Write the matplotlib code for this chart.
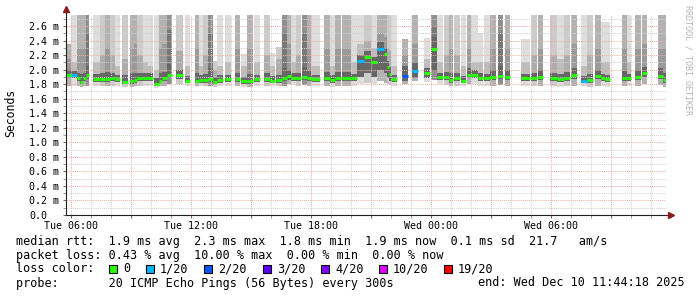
import matplotlib
matplotlib.use('Agg')
import matplotlib.pyplot as plt
from matplotlib.patches import Rectangle
from matplotlib.ticker import FixedLocator
import numpy as np

W, H = 697, 297

# ---------------- data (hours since Tue 00:00, latency in ms) ----------------
t_start = [5.74, 6.00, 6.30, 6.45, 6.58, 6.73,
           7.10, 7.43, 7.68, 7.93, 8.18,
           8.55,
           8.95, 9.13, 9.30, 9.58, 9.85,
           10.13, 10.38, 10.53, 10.78,
           11.23, 11.68,
           12.18, 12.38, 12.58, 12.83, 13.08, 13.28,
           13.68,
           14.20, 14.48, 14.78, 15.13,
           15.63, 15.93, 16.23, 16.53, 16.78, 16.98, 17.23,
           17.53, 17.78, 17.98,
           18.63, 18.93, 19.18,
           19.53, 19.98, 20.28, 20.63, 20.98, 21.28, 21.63, 21.78, 21.88, 21.98,
           22.53,
           23.03,
           23.63,
           24.00, 24.30, 24.63, 24.88, 25.13, 25.48, 25.78, 25.98, 26.33, 26.63, 26.93,
           27.33,
           27.68,
           28.48, 28.98, 29.33,
           29.93, 30.28, 30.63, 30.98,
           31.48, 31.78,
           32.18, 32.48, 32.68,
           33.53, 33.78,
           34.18, 34.53,
           35.33, 35.58]

t_end = [6.00, 6.30, 6.45, 6.58, 6.73, 6.90,
         7.43, 7.68, 7.93, 8.18, 8.43,
         8.83,
         9.13, 9.30, 9.58, 9.83, 10.08,
         10.38, 10.53, 10.78, 11.05,
         11.58, 11.95,
         12.38, 12.58, 12.83, 13.08, 13.28, 13.58,
         13.98,
         14.45, 14.78, 15.08, 15.43,
         15.93, 16.18, 16.53, 16.78, 16.98, 17.23, 17.48,
         17.78, 17.98, 18.43,
         18.93, 19.18, 19.48,
         19.98, 20.28, 20.63, 20.98, 21.28, 21.63, 21.78, 21.88, 21.98, 22.28,
         22.83,
         23.33,
         23.93,
         24.30, 24.58, 24.88, 25.08, 25.43, 25.73, 25.98, 26.33, 26.58, 26.93, 27.23,
         27.58,
         27.93,
         28.93, 29.28, 29.58,
         30.28, 30.63, 30.93, 31.28,
         31.78, 32.08,
         32.48, 32.68, 32.93,
         33.78, 33.98,
         34.48, 34.78,
         35.58, 35.72]

median_ms = [1.93, 1.92, 1.88, 1.83, 1.88, 1.92,
             1.87, 1.87, 1.87, 1.88, 1.87,
             1.83,
             1.84, 1.86, 1.89, 1.89, 1.89,
             1.80, 1.85, 1.88, 1.93,
             1.92, 1.85,
             1.85, 1.86, 1.86, 1.87, 1.83, 1.86,
             1.87,
             1.87, 1.84, 1.84, 1.87,
             1.87, 1.85, 1.86, 1.88, 1.91, 1.89, 1.88,
             1.90, 1.89, 1.87,
             1.88, 1.86, 1.88,
             1.88, 1.88, 2.12, 2.18, 2.10, 2.28, 2.21, 2.03, 1.94, 1.87,
             1.91,
             1.98,
             1.95,
             2.29, 1.90, 1.90, 1.86, 1.88, 1.85, 1.93, 1.93, 1.89, 1.88, 1.90,
             1.91,
             1.90,
             1.88, 1.88, 1.90,
             1.88, 1.87, 1.89, 1.92,
             1.85, 1.86,
             1.91, 1.88, 1.87,
             1.89, 1.88,
             1.90, 1.95,
             1.91, 1.86]

loss_idx = [0, 1, 0, 0, 0, 0,
            0, 0, 0, 0, 0,
            0,
            0, 0, 0, 0, 0,
            0, 0, 0, 0,
            0, 0,
            0, 0, 0, 0, 0, 0,
            0,
            0, 0, 0, 0,
            0, 0, 0, 0, 0, 0, 0,
            0, 0, 0,
            0, 0, 0,
            0, 0, 1, 0, 0, 1, 0, 0, 0, 0,
            2,
            1,
            0,
            0, 0, 0, 0, 0, 0, 0, 0, 0, 0, 0,
            0,
            0,
            0, 0, 0,
            0, 0, 0, 0,
            1, 0,
            0, 0, 0,
            0, 0,
            0, 0,
            0, 0]

ping_min = [1.78, 1.77, 1.77, 1.76, 1.77, 1.78,
            1.77, 1.77, 1.77, 1.78, 1.77,
            1.76,
            1.76, 1.77, 1.78, 1.78, 1.78,
            1.75, 1.77, 1.78, 1.80,
            1.80, 1.77,
            1.77, 1.77, 1.77, 1.77, 1.76, 1.77,
            1.78,
            1.77, 1.76, 1.76, 1.77,
            1.77, 1.77, 1.77, 1.78, 1.80, 1.79, 1.78,
            1.79, 1.78, 1.77,
            1.77, 1.76, 1.77,
            1.77, 1.78, 1.80, 1.82, 1.80, 1.84, 1.82, 1.80, 1.79, 1.77,
            1.80,
            1.84,
            1.83,
            1.86, 1.80, 1.79, 1.77, 1.78, 1.77, 1.80, 1.80, 1.78, 1.77, 1.78,
            1.79,
            1.78,
            1.77, 1.77, 1.78,
            1.77, 1.76, 1.77, 1.78,
            1.77, 1.76,
            1.78, 1.77, 1.76,
            1.78, 1.77,
            1.78, 1.80,
            1.79, 1.76]

ping_p25 = [1.89, 1.88, 1.84, 1.80, 1.84, 1.87,
            1.83, 1.83, 1.83, 1.84, 1.83,
            1.80,
            1.80, 1.82, 1.85, 1.85, 1.85,
            1.77, 1.81, 1.84, 1.88,
            1.87, 1.81,
            1.81, 1.82, 1.82, 1.83, 1.80, 1.82,
            1.83,
            1.83, 1.80, 1.80, 1.83,
            1.83, 1.81, 1.82, 1.84, 1.86, 1.85, 1.84,
            1.86, 1.85, 1.83,
            1.84, 1.82, 1.84,
            1.84, 1.84, 1.90, 1.95, 1.90, 2.00, 1.95, 1.88, 1.84, 1.83,
            1.84,
            1.88,
            1.88,
            1.98, 1.86, 1.86, 1.82, 1.84, 1.81, 1.88, 1.88, 1.85, 1.84, 1.86,
            1.87,
            1.86,
            1.84, 1.84, 1.86,
            1.84, 1.83, 1.85, 1.87,
            1.81, 1.82,
            1.87, 1.84, 1.83,
            1.85, 1.84,
            1.86, 1.90,
            1.87, 1.82]

ping_p75 = [2.00, 1.98, 1.96, 1.94, 1.96, 2.05,
            1.94, 1.95, 1.97, 1.96, 1.93,
            1.92,
            1.95, 1.96, 1.96, 1.95, 1.95,
            1.88, 1.95, 1.97, 2.08,
            1.99, 1.91,
            1.95, 1.92, 1.94, 2.02, 1.90, 1.92,
            1.93,
            1.96, 1.90, 1.94, 1.93,
            1.95, 1.91, 1.93, 2.02, 2.00, 1.95, 1.95,
            2.04, 1.98, 1.93,
            1.97, 1.92, 1.97,
            1.97, 1.94, 2.20, 2.25, 2.18, 2.38, 2.30, 2.12, 2.03, 1.93,
            2.05,
            2.10,
            2.02,
            2.45, 1.96, 1.97, 1.96, 1.96, 1.91, 2.02, 1.99, 1.95, 1.94, 1.99,
            2.05,
            1.99,
            1.94, 1.96, 2.00,
            1.96, 1.94, 1.97, 2.02,
            1.91, 1.94,
            2.00, 1.94, 1.93,
            1.98, 1.94,
            1.99, 2.04,
            2.02, 1.96]

ping_p90 = [2.15, 2.10, 2.30, 2.30, 2.30, 2.50,
            2.10, 2.20, 2.30, 2.20, 2.05,
            2.15,
            2.30, 2.35, 2.20, 2.10, 2.05,
            2.00, 2.30, 2.35, 2.55,
            2.25, 2.05,
            2.30, 2.05, 2.20, 2.50, 2.00, 2.05,
            2.10,
            2.30, 2.05, 2.30, 2.10,
            2.20, 2.05, 2.15, 2.50, 2.35, 2.10, 2.20,
            2.50, 2.30, 2.05,
            2.30, 2.05, 2.30,
            2.30, 2.10, 2.35, 2.40, 2.30, 2.50, 2.45, 2.30, 2.25, 2.05,
            2.20,
            2.35,
            2.15,
            2.60, 2.10, 2.20, 2.30, 2.20, 2.05, 2.30, 2.10, 2.10, 2.10, 2.30,
            2.50,
            2.30,
            2.10, 2.20, 2.30,
            2.20, 2.15, 2.20, 2.35,
            2.05, 2.20,
            2.30, 2.10, 2.10,
            2.30, 2.10,
            2.30, 2.35,
            2.30, 2.30]

ping_max = [2.35, 3, 3, 3, 3, 3,
            3, 3, 3, 3, 3,
            3,
            3, 3, 3, 3, 3,
            3, 3, 3, 3,
            3, 3,
            3, 3, 3, 3, 2.12, 3,
            3,
            3, 2.22, 3, 3,
            3, 2.23, 2.31, 3, 3, 3, 3,
            3, 3, 3,
            3, 3, 3,
            3, 3, 3, 3, 3, 3, 3, 3, 3, 3,
            2.42,
            3,
            2.43,
            3, 3, 3, 3, 3, 3, 3, 3, 2.50, 3, 3,
            3,
            3,
            2.42, 3, 3,
            3, 3, 3, 3,
            3, 3,
            3, 2.66, 2.66,
            3, 3,
            3, 3,
            3, 3]

smoke_shade = [2, 0, 2, 2, 2, 3,
               0, 1, 2, 1, 0,
               1,
               2, 2, 1, 0, 0,
               0, 2, 2, 3,
               1, 0,
               2, 0, 1, 3, 1, 0,
               0,
               2, 0, 2, 0,
               1, 0, 1, 3, 2, 0, 1,
               3, 2, 0,
               2, 0, 2,
               2, 0, 0, 1, 0, 2, 2, 1, 1, 0,
               2,
               2,
               0,
               3, 0, 1, 2, 1, 0, 2, 0, 0, 0, 2,
               3,
               2,
               0, 1, 2,
               1, 0, 1, 2,
               0, 1,
               2, 0, 0,
               2, 0,
               2, 2,
               2, 2]

x_tick_hours = [6, 12, 18, 24, 30]
x_tick_labels = ['Tue 06:00', 'Tue 12:00', 'Tue 18:00', 'Wed 00:00', 'Wed 06:00']
y_tick_values = [0.0, 0.2, 0.4, 0.6, 0.8, 1.0, 1.2, 1.4, 1.6, 1.8, 2.0, 2.2, 2.4, 2.6]
y_tick_labels = ['0.0', '0.2 m', '0.4 m', '0.6 m', '0.8 m', '1.0 m', '1.2 m',
                 '1.4 m', '1.6 m', '1.8 m', '2.0 m', '2.2 m', '2.4 m', '2.6 m']
loss_labels = ['0', '1/20', '2/20', '3/20', '4/20', '10/20', '19/20']
loss_colors = ['#26ff00', '#00b8ff', '#0059ff', '#5e00ff', '#7e00ff', '#dd00ff', '#ff0000']

# ---------------- styles ----------------
shade_outer = ['#dedede', '#cbcbcb', '#b2b2b2', '#909090']
shade_mid = ['#bdbdbd', '#adadad', '#9a9a9a', '#787878']
core_color = '#666666'
MONO = 'DejaVu Sans Mono'

fig = plt.figure(figsize=(W / 100, H / 100), dpi=100)
fig.patch.set_facecolor('white')
ax_h = 200.5
ax = fig.add_axes([66.25 / W, (H - 215) / H, 600 / W, ax_h / H])
ymax = ax_h / 72.7
ax.set_xlim(5.738, 35.738)
ax.set_ylim(0, ymax)

s = np.array(t_start)
e = np.array(t_end)
w = e - s
pmin = np.array(ping_min)
p25 = np.array(ping_p25)
p75 = np.array(ping_p75)
pmax = np.array(ping_max)
p90 = np.minimum(np.array(ping_p90), pmax)
med = np.array(median_ms)

ax.bar(s, pmax - pmin, bottom=pmin, width=w, align='edge',
       color=[shade_outer[k] for k in smoke_shade], linewidth=0, zorder=1)
ax.bar(s, p90 - p25, bottom=p25, width=w, align='edge',
       color=[shade_mid[k] for k in smoke_shade], linewidth=0, zorder=1.1)
ax.bar(s, p75 - p25, bottom=p25, width=w, align='edge',
       color=core_color, linewidth=0, zorder=1.2)

# median line, coloured by packet loss
ax.hlines(med, s, e, colors=[loss_colors[k] for k in loss_idx],
          linewidth=2.2, zorder=5)

# grid
major_x = [6, 9, 12, 15, 18, 21, 24, 27, 30, 33]
ax.xaxis.set_major_locator(FixedLocator(major_x))
ax.xaxis.set_minor_locator(FixedLocator(list(range(6, 36))))
ax.set_xticklabels([x_tick_labels[x_tick_hours.index(h)] if h in x_tick_hours else ''
                    for h in major_x])
ax.yaxis.set_major_locator(FixedLocator(y_tick_values))
ax.yaxis.set_minor_locator(FixedLocator([v + 0.1 for v in y_tick_values]))
ax.set_yticklabels(y_tick_labels)

ax.set_axisbelow(False)
ax.grid(which='major', color='#eab0b0', linestyle=(0, (1, 1)), linewidth=0.75)
ax.grid(which='minor', color='#d2d2d2', linestyle=(0, (1, 1)), linewidth=0.75)

for sp in ax.spines.values():
    sp.set_visible(False)

ax.tick_params(axis='both', which='major', length=2, width=0.8, color='#707070',
               labelsize=7.2, labelfontfamily=MONO, labelcolor='#000000')
ax.tick_params(axis='both', which='minor', length=2, width=0.8, color='#a0a0a0')
ax.tick_params(axis='y', which='major', pad=24.7)
ax.tick_params(axis='x', which='major', pad=2.0)
for lab in ax.get_yticklabels():
    lab.set_horizontalalignment('left')

# axis lines with arrows
ax.plot([0, 0], [0, 1.03], transform=ax.transAxes, color='#202020', lw=0.8,
        clip_on=False, zorder=6)
ax.plot([0, 1.01], [0, 0], transform=ax.transAxes, color='#202020', lw=0.8,
        clip_on=False, zorder=6)
ax.plot([0], [1.025], transform=ax.transAxes, marker='^', ms=4.2, color='#8b1a1a',
        mec='#8b1a1a', clip_on=False, zorder=7)
ax.plot([1.0075], [0], transform=ax.transAxes, marker='>', ms=4.2, color='#8b1a1a',
        mec='#8b1a1a', clip_on=False, zorder=7)

# y label and watermark
fig.text(11 / W, 1 - 113 / H, 'Seconds', rotation=90, ha='center', va='center',
         fontsize=8.3, family=MONO)
fig.text(688 / W, 1 - 60 / H, 'RRDTOOL / TOBI OETIKER', rotation=270, ha='center',
         va='center', fontsize=6.0, family=MONO, color='#b4b4b4')

# legend lines
FS = 8.5
def ftext(x, y, s, **kw):
    fig.text(x / W, 1 - y / H, s, ha='left', va='center', fontsize=FS, family=MONO, **kw)

ftext(16, 241, 'median rtt:  1.9 ms avg  2.3 ms max  1.8 ms min  1.9 ms now  0.1 ms sd  21.7   am/s')
ftext(16, 255, 'packet loss: 0.43 % avg  10.00 % max  0.00 % min  0.00 % now')
ftext(16, 269, 'loss color:')
label_x = [123.3, 160, 218.3, 276.7, 335, 393, 457.5]
for lx, lab, col in zip(label_x, loss_labels, loss_colors):
    sq = Rectangle(((lx - 14) / W, 1 - 273 / H), 8 / W, 8 / H, transform=fig.transFigure,
                   facecolor=col, edgecolor='black', linewidth=0.8)
    fig.patches.append(sq)
    ftext(lx, 269, lab)
ftext(16, 283, 'probe:       20 ICMP Echo Pings (56 Bytes) every 300s')
ftext(478.3, 283, 'end: Wed Dec 10 11:44:18 2025')

fig.savefig('out.png', dpi=100, facecolor='white')
